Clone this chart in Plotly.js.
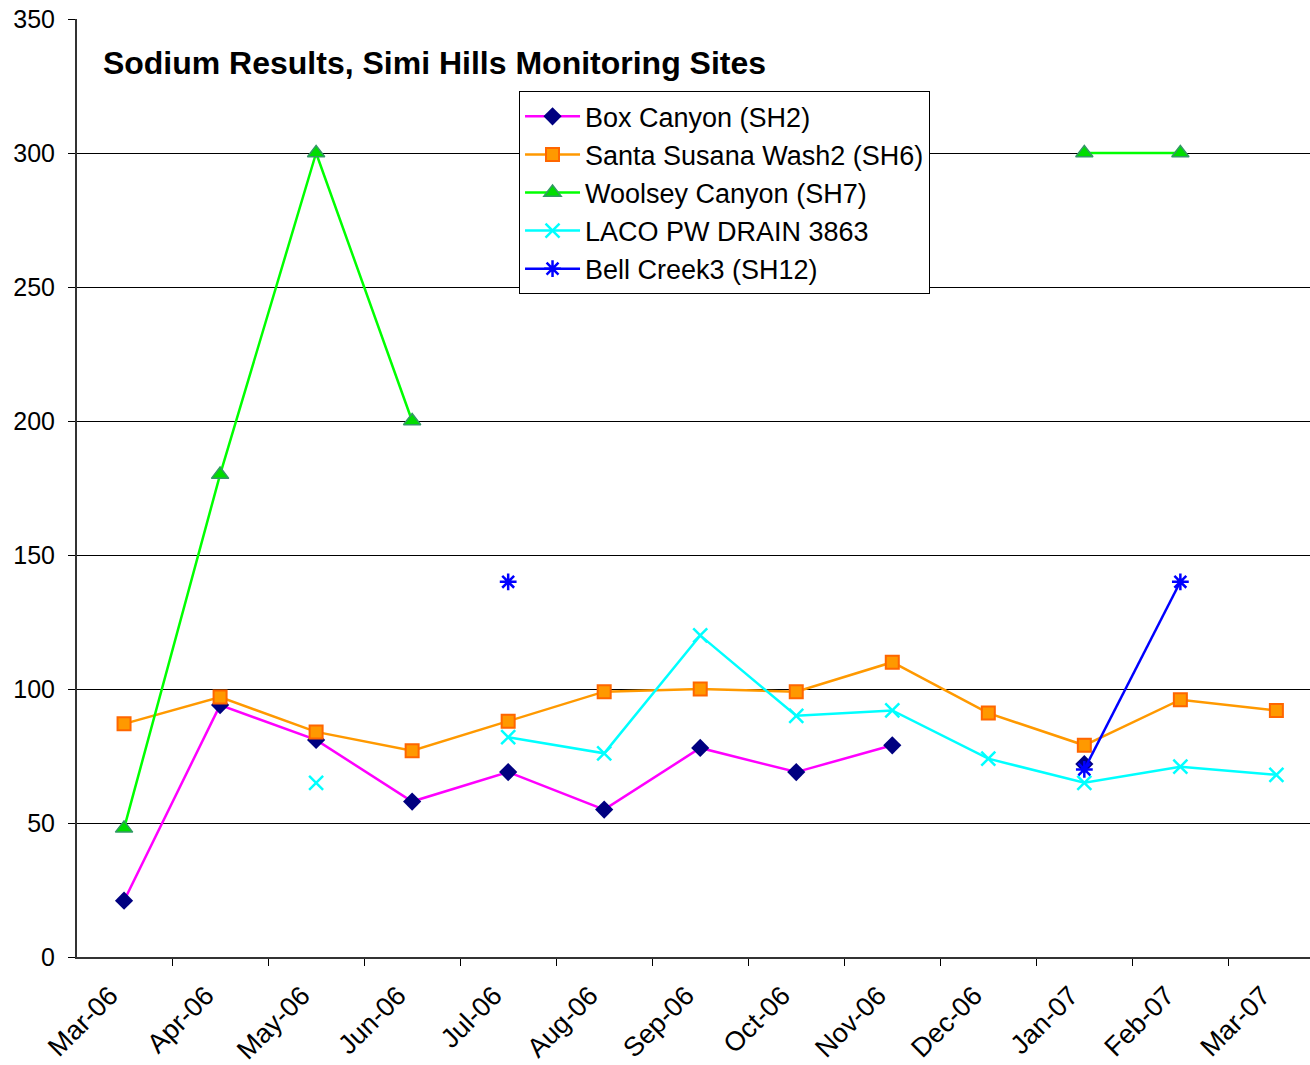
<!DOCTYPE html>
<html>
<head>
<meta charset="utf-8">
<script src="https://cdn.plot.ly/plotly-3.0.1.min.js"></script>
<style>html,body{margin:0;padding:0;background:#fff;}#chart{width:1310px;height:1065px;}</style>
</head>
<body>
<div id="chart"></div>
<script>
const months = ["Mar-06","Apr-06","May-06","Jun-06","Jul-06","Aug-06","Sep-06","Oct-06","Nov-06","Dec-06","Jan-07","Feb-07","Mar-07"];
const boxCanyon   = [21, 94, 81, 58, 69, 55, 78, 69, 79, null, 72, null, null];
const santaSusana = [87, 97, 84, 77, 88, 99, 100, 99, 110, 91, 79, 96, 92];
const woolsey     = [48, 180, 300, 200, null, null, null, null, null, null, 300, 300, null];
const laco        = [null, null, 65, null, 82, 76, 120, 90, 92, 74, 65, 71, 68];
const bellCreek   = [null, null, null, null, 140, null, null, null, null, null, 70, 140, null];

const FONT = "Liberation Sans, Arial, sans-serif";

const traces = [
  {name:"Box Canyon (SH2)", x:months, y:boxCanyon, type:"scatter", mode:"lines+markers",
   line:{color:"#FF00FF", width:2.5},
   marker:{symbol:"diamond", size:14, color:"#000080", line:{width:0}}},
  {name:"Santa Susana Wash2 (SH6)", x:months, y:santaSusana, type:"scatter", mode:"lines+markers",
   line:{color:"#FF9900", width:2.5},
   marker:{symbol:"square", size:13, color:"#FF9900", line:{color:"#FF6600", width:2}}},
  {name:"Woolsey Canyon (SH7)", x:months, y:woolsey, type:"scatter", mode:"lines+markers",
   line:{color:"#00FF00", width:2.5},
   marker:{symbol:"triangle-up", size:15, color:"#00DD00", line:{color:"#339966", width:1.5}}},
  {name:"LACO PW DRAIN 3863", x:months, y:laco, type:"scatter", mode:"lines+markers",
   line:{color:"#00FFFF", width:2.5},
   marker:{symbol:"x-thin-open", size:14, color:"#00FFFF", line:{color:"#00FFFF", width:2.5}}},
  {name:"Bell Creek3 (SH12)", x:months, y:bellCreek, type:"scatter", mode:"lines+markers",
   line:{color:"#0000FF", width:2.5},
   marker:{symbol:"asterisk-open", size:14, color:"#0000FF", line:{color:"#0000FF", width:2.5}}}
];

const layout = {
  width:1310, height:1065,
  margin:{l:77, r:0, t:19, b:108},
  paper_bgcolor:"#fff", plot_bgcolor:"#fff",
  font:{family:FONT, color:"#000", size:25},
  showlegend:true,
  title:{text:"<b>Sodium Results, Simi Hills Monitoring Sites</b>", font:{family:FONT, size:32, color:"#000"},
         x:0.021, xref:"paper", xanchor:"left", y:0.941, yref:"container", yanchor:"middle"},
  xaxis:{type:"category", range:[-0.49, 12.35], tickson:"boundaries", ticks:"outside", ticklen:7, tickcolor:"#000",
         tickangle:-45, showgrid:false, showline:true, linecolor:"#333", linewidth:2, zeroline:false,
         ticklabelstandoff:10, ticklabelshift:-14,
         tickfont:{family:FONT, size:27, color:"#000"}, fixedrange:true},
  yaxis:{range:[0,350], dtick:50, ticks:"outside", ticklen:7, tickcolor:"#000", showgrid:true, gridcolor:"#000", gridwidth:1,
         showline:true, linecolor:"#333", linewidth:2, zeroline:false, ticklabelstandoff:8,
         tickfont:{family:FONT, size:25, color:"#000"}, fixedrange:true},
  legend:{x:0.3585, y:0.923, xanchor:"left", yanchor:"top", bgcolor:"#fff", bordercolor:"#000", borderwidth:1,
          font:{family:FONT, size:27, color:"#000"}, itemwidth:55, tracegroupgap:0}
};

Plotly.newPlot("chart", traces, layout, {displayModeBar:false, staticPlot:true});
</script>
</body>
</html>
